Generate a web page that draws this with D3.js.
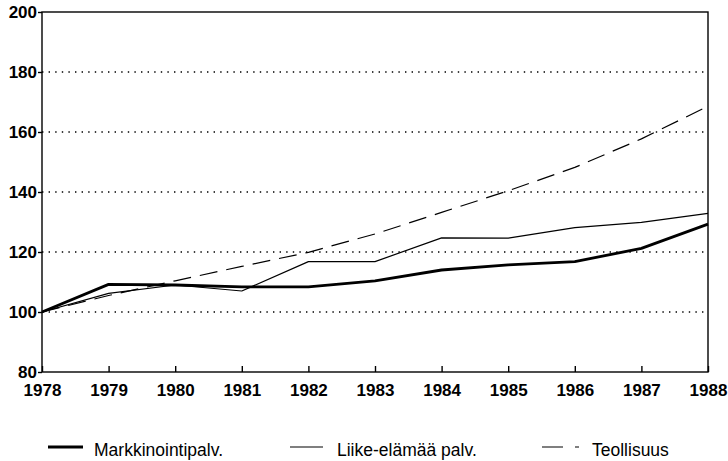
<!DOCTYPE html>
<html>
<head>
<meta charset="utf-8">
<script src="https://cdn.jsdelivr.net/npm/d3@7"></script>
<style>
  body { margin: 0; background: #fff; }
  svg text { font-family: "Liberation Sans", Arial, sans-serif; fill: #000; }
</style>
</head>
<body>
<svg id="chart" width="728" height="461"></svg>
<script>
// vuodet ja sarjat (indeksi 1978 = 100)
var years = [1978, 1979, 1980, 1981, 1982, 1983, 1984, 1985, 1986, 1987, 1988];
var markkinointi = [100, 109.2, 109, 108.4, 108.4, 110.4, 114, 115.7, 116.8, 121.2, 129.3];
var liike = [100, 106.2, 109, 107, 116.8, 116.8, 124.7, 124.6, 128.1, 129.9, 132.9];
var teollisuus = [100, 105.5, 110.4, 115.2, 119.9, 126, 133.2, 140.4, 148.2, 157.7, 168.6];
var yTicks = [80, 100, 120, 140, 160, 180, 200];
var legendNames = ["Markkinointipalv.", "Liike-elämää palv.", "Teollisuus"];

var svg = d3.select("#chart"),
    margin = {top: 12, right: 20, bottom: 89, left: 42},
    width = 708 - margin.left,
    height = 372 - margin.top;

var g = svg.append("g").attr("transform", "translate(" + margin.left + "," + margin.top + ")");

var x = d3.scaleLinear().domain([1978, 1988]).range([0, width]);
var y = d3.scaleLinear().domain([80, 200]).range([height, 0]);

// pisteviivat
g.selectAll(".grid")
  .data(yTicks.filter(function(d) { return d > 80 && d < 200; }))
  .enter().append("line")
  .attr("x1", 0).attr("x2", width)
  .attr("y1", function(d) { return y(d); })
  .attr("y2", function(d) { return y(d); })
  .attr("stroke", "#000")
  .attr("stroke-width", 1.4)
  .attr("stroke-dasharray", "1.4,5.2");

// kehys
g.append("rect")
  .attr("width", width).attr("height", height)
  .attr("fill", "none").attr("stroke", "#000").attr("stroke-width", 1.4);

var xAxis = g.append("g")
  .attr("transform", "translate(0," + height + ")")
  .call(d3.axisBottom(x).tickValues(years).tickFormat(d3.format("d")).tickSize(-6).tickPadding(12));
xAxis.select(".domain").remove();
xAxis.selectAll("line").attr("stroke-width", 1.4);
xAxis.selectAll("text").style("font-size", "17px").style("font-weight", "bold");

var yAxis = g.append("g")
  .call(d3.axisLeft(y).tickValues(yTicks).tickSize(4).tickPadding(1));
yAxis.select(".domain").remove();
yAxis.selectAll("line").attr("stroke-width", 1.4);
yAxis.selectAll("text").style("font-size", "17px").style("font-weight", "bold").attr("dy", "0.35em");

var line = d3.line()
  .x(function(d, i) { return x(years[i]); })
  .y(function(d) { return y(d); });

var series = [
  {values: teollisuus, w: 1.2, dash: "18,9"},
  {values: liike, w: 1.2, dash: null},
  {values: markkinointi, w: 2.8, dash: null}
];

series.forEach(function(s) {
  g.append("path")
    .datum(s.values)
    .attr("fill", "none")
    .attr("stroke", "#000")
    .attr("stroke-width", s.w)
    .attr("stroke-dasharray", s.dash)
    .attr("stroke-linejoin", "round")
    .attr("d", line);
});

// selite
var legend = [
  {name: legendNames[0], x: 48, tx: 94, w: 2.8, dash: null, len: 35},
  {name: legendNames[1], x: 290, tx: 337, w: 1.2, dash: null, len: 33},
  {name: legendNames[2], x: 542, tx: 592, w: 1.2, dash: "21,12,4,100", len: 37}
];
legend.forEach(function(l) {
  svg.append("line")
    .attr("x1", l.x).attr("x2", l.x + l.len)
    .attr("y1", 447).attr("y2", 447)
    .attr("stroke", "#000").attr("stroke-width", l.w)
    .attr("stroke-dasharray", l.dash);
  svg.append("text")
    .attr("x", l.tx).attr("y", 456)
    .style("font-size", "17.5px")
    .text(l.name);
});
</script>
</body>
</html>
